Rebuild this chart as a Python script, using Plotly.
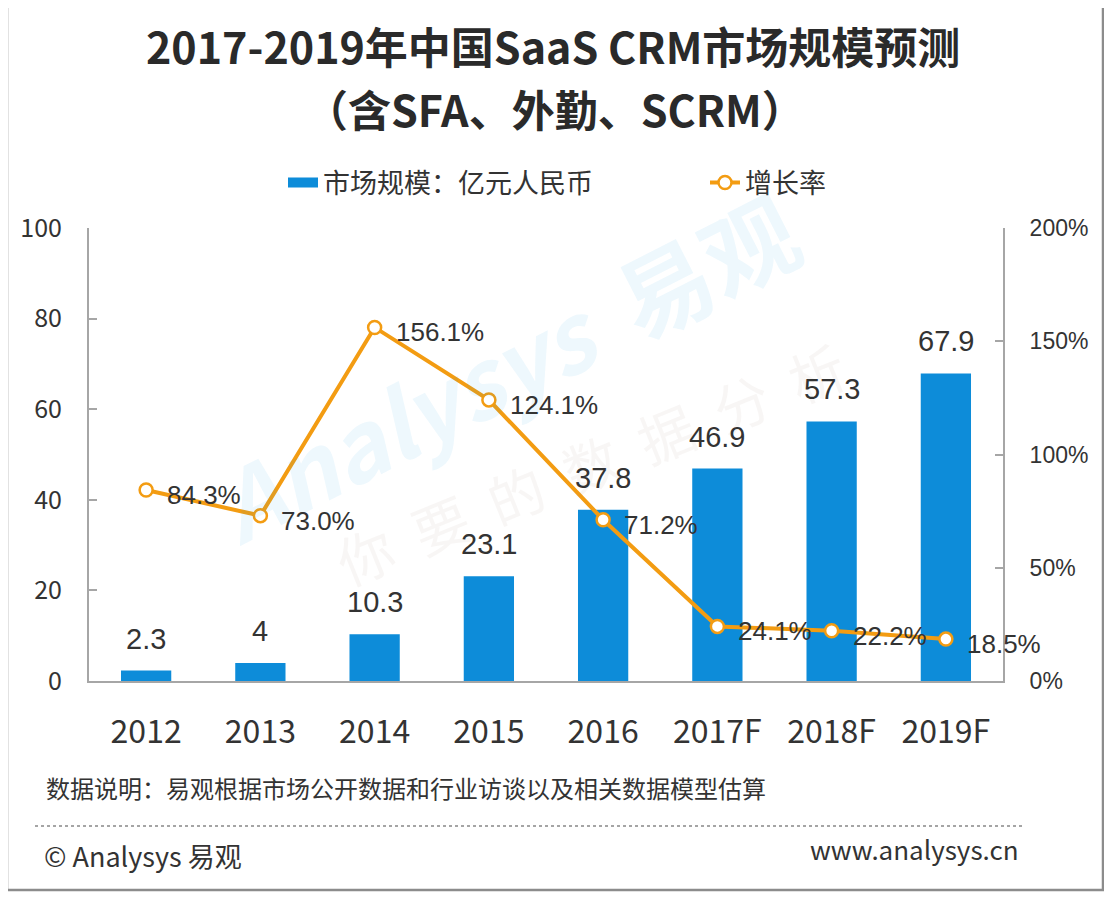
import plotly.graph_objects as go

categories = ["2012", "2013", "2014", "2015", "2016", "2017F", "2018F", "2019F"]
market_size = [2.3, 4, 10.3, 23.1, 37.8, 46.9, 57.3, 67.9]
market_labels = ["2.3", "4", "10.3", "23.1", "37.8", "46.9", "57.3", "67.9"]
growth = [84.3, 73.0, 156.1, 124.1, 71.2, 24.1, 22.2, 18.5]
growth_labels = ["84.3%", "73.0%", "156.1%", "124.1%", "71.2%", "24.1%", "22.2%", "18.5%"]
left_ticks = [0, 20, 40, 60, 80, 100]
right_ticks = [0, 50, 100, 150, 200]
right_tick_text = ["0%", "50%", "100%", "150%", "200%"]

# page has an 8px body margin: figure origin sits at (8, 8) of the window
OFF = 8
W, H = 1112 - OFF, 898 - OFF
L, R, T, B = 89, 1003, 228, 681   # plot area in window pixels
PW, PH = R - L, B - T


def px(x):
    return (x - L) / PW


def py(y):
    return (B - y) / PH


CJK = "Noto Sans CJK SC"
NUM = "Liberation Sans"
BAR_COLOR = "#0d8cd9"
LINE_COLOR = "#f39c12"
TXT = "#333333"

fig = go.Figure()
fig.add_trace(go.Bar(
    x=categories, y=market_size, name="市场规模：亿元人民币",
    marker=dict(color=BAR_COLOR, line=dict(width=0)),
    width=0.44, yaxis="y", showlegend=False,
))
# legend stand-in for the bar series (wide rectangle swatch)
fig.add_trace(go.Scatter(
    x=[None], y=[None], name="市场规模：亿元人民币", mode="lines",
    line=dict(color=BAR_COLOR, width=16), legend="legend", showlegend=True,
))
fig.add_trace(go.Scatter(
    x=categories, y=growth, name="增长率", yaxis="y2", mode="lines+markers",
    line=dict(color=LINE_COLOR, width=4),
    marker=dict(size=13, color="white", line=dict(color=LINE_COLOR, width=2.5)),
    legend="legend2",
))

annotations = []
# watermark (very faint)
annotations.append(dict(x=px(505), y=py(365), xref="paper", yref="paper",
                        xanchor="center", yanchor="middle",
                        text="<i><b>Analysys</b></i>  <b>易观</b>", showarrow=False, textangle=-27,
                        font=dict(family=CJK, size=94, color="rgba(20,150,220,0.07)")))
annotations.append(dict(x=px(590), y=py(462), xref="paper", yref="paper",
                        xanchor="center", yanchor="middle",
                        text="你  要  的  数  据  分  析", showarrow=False, textangle=-22,
                        font=dict(family=CJK, size=56, color="rgba(160,140,130,0.08)")))

for i, (v, t) in enumerate(zip(market_size, market_labels)):
    annotations.append(dict(x=i, y=v, xref="x", yref="y", text=t, showarrow=False,
                            yanchor="bottom", yshift=14,
                            font=dict(family=NUM, size=29, color=TXT)))
for i, (v, t) in enumerate(zip(growth, growth_labels)):
    annotations.append(dict(x=i, y=v, xref="x", yref="y2", text=t, showarrow=False,
                            xanchor="left", xshift=19, yshift=-5,
                            font=dict(family=NUM, size=26, color=TXT)))

# titles and footer
annotations += [
    dict(x=px(553), y=py(45), xref="paper", yref="paper", showarrow=False,
         text="<b>2017-2019年中国SaaS CRM市场规模预测</b>", yanchor="middle",
         font=dict(family=CJK, size=43, color="#2a2a2a")),
    dict(x=px(555), y=py(108), xref="paper", yref="paper", showarrow=False,
         text="<b>（含SFA、外勤、SCRM）</b>", yanchor="middle",
         font=dict(family=CJK, size=43, color="#2a2a2a")),
    dict(x=px(44), y=py(787), xref="paper", yref="paper", showarrow=False,
         text="数据说明：易观根据市场公开数据和行业访谈以及相关数据模型估算",
         xanchor="left", yanchor="middle", font=dict(family=CJK, size=24, color=TXT)),
    dict(x=px(42), y=py(855), xref="paper", yref="paper", showarrow=False,
         text="© Analysys 易观", xanchor="left", yanchor="middle",
         font=dict(family=CJK, size=27, color=TXT)),
    dict(x=px(1021), y=py(848), xref="paper", yref="paper", showarrow=False,
         text="www.analysys.cn", xanchor="right", yanchor="middle",
         font=dict(family=CJK, size=26, color=TXT)),
]

shapes = [
    dict(type="rect", xref="paper", yref="paper", x0=px(7), x1=px(1103), y0=py(6), y1=py(890),
         line=dict(color="#8c8c8c", width=2.5), fillcolor="rgba(0,0,0,0)", layer="below"),
    dict(type="line", xref="paper", yref="paper", x0=px(35), x1=px(1022), y0=py(826), y1=py(826),
         line=dict(color="#888888", width=1.5, dash="dot")),
]

axis_line = "#a6a6a6"
legend_common = dict(orientation="h", yanchor="middle", xanchor="left",
                     xref="paper", yref="paper",
                     font=dict(family=CJK, size=27, color=TXT),
                     bgcolor="rgba(0,0,0,0)", borderwidth=0)
fig.update_layout(
    width=W, height=H,
    margin=dict(l=L - OFF, r=W - (R - OFF), t=T - OFF, b=H - (B - OFF), pad=0),
    paper_bgcolor="white", plot_bgcolor="white",
    showlegend=True,
    legend=dict(x=px(283), y=py(183), **legend_common),
    legend2=dict(x=px(705), y=py(183), **legend_common),
    xaxis=dict(type="category", categoryorder="array", categoryarray=categories,
               showline=True, linecolor=axis_line, linewidth=2, ticks="", showgrid=False,
               tickfont=dict(family=CJK, size=32, color=TXT), ticklabelstandoff=22,
               range=[-0.5, 7.5]),
    yaxis=dict(range=[0, 100], tickvals=left_ticks, showgrid=False, zeroline=False,
               showline=True, linecolor=axis_line, linewidth=2, ticks="inside", ticklen=8,
               tickcolor=axis_line, tickwidth=2,
               tickfont=dict(family=CJK, size=25, color=TXT), ticklabelstandoff=20),
    yaxis2=dict(range=[0, 200], tickvals=right_ticks, ticktext=right_tick_text,
                overlaying="y", side="right", showgrid=False, zeroline=False,
                showline=True, linecolor=axis_line, linewidth=2, ticks="inside", ticklen=8,
                tickcolor=axis_line, tickwidth=2,
                tickfont=dict(family=NUM, size=23, color=TXT), ticklabelstandoff=20),
    annotations=annotations,
    shapes=shapes,
)

fig.write_html("out.html")
